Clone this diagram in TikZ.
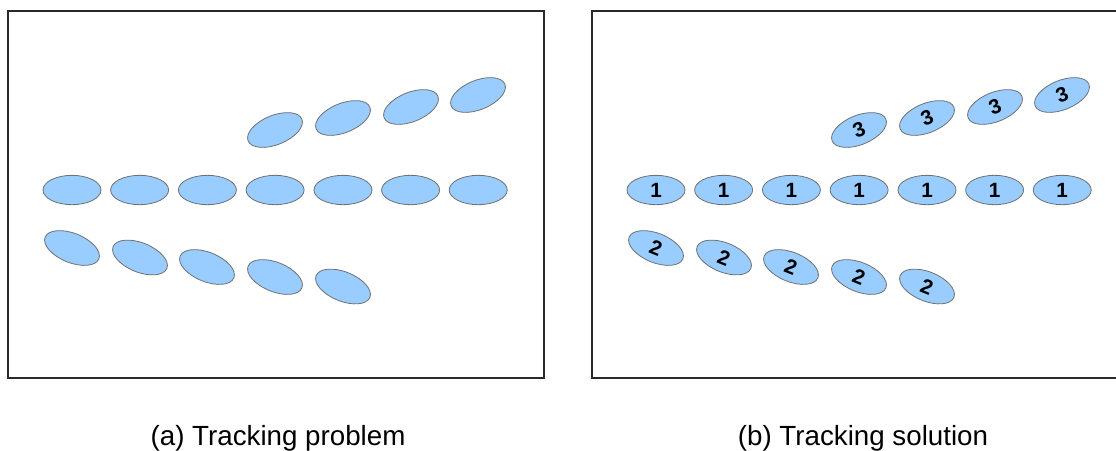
\documentclass[tikz,border=0pt]{standalone}
\usepackage{fontspec}
\setmainfont{Liberation Sans}
\usetikzlibrary{shapes.geometric}
\definecolor{blobfill}{HTML}{99CCFF}
\definecolor{blobline}{HTML}{707070}
\definecolor{framecol}{HTML}{2A2A2A}
\begin{document}
\begin{tikzpicture}[x=0.75pt,y=-0.75pt,
  blob/.style={ellipse,draw=blobline,fill=blobfill,line width=0.6pt,
    minimum width=43.5pt,minimum height=22pt,inner sep=0pt,
    font=\fontsize{15.5}{15.5}\selectfont\bfseries},
  up/.style={blob,rotate=22},
  down/.style={blob,rotate=-22},
  frame/.style={draw=framecol,line width=0.8pt},
  caption/.style={anchor=base,font=\fontsize{20.8}{24}\selectfont}]
\useasboundingbox (0,0) rectangle (1116,450);
% panel (a)
\draw[frame] (8,11) rectangle (544,378);
\foreach \x [count=\i] in {72,139.6,207.4,275.1,343,410.6,478.2}
  \node[blob] (am\i) at (\x,190) {};
\foreach \x/\y [count=\i] in {275/130,343/118,411/107,478/95}
  \node[up] (at\i) at (\x,\y) {};
\foreach \x/\y [count=\i] in {72/248,140/257.5,207/267,275/277,343/286.5}
  \node[down] (ab\i) at (\x,\y) {};
\node[caption] (capa) at (278,445) {(a)\ Tracking problem};
% panel (b)
\draw[frame] (592,11) rectangle (1128,378);
\foreach \x [count=\i] in {72,139.6,207.4,275.1,343,410.6,478.2}
  \node[blob] (bm\i) at (\x+584,190) {1};
\foreach \x/\y [count=\i] in {275/130,343/118,411/107,478/95}
  \node[up] (bt\i) at (\x+584,\y) {3};
\foreach \x/\y [count=\i] in {72/248,140/257.5,207/267,275/277,343/286.5}
  \node[down] (bb\i) at (\x+584,\y) {2};
\node[caption] (capb) at (863,445) {(b)\ Tracking solution};
\end{tikzpicture}
\end{document}
